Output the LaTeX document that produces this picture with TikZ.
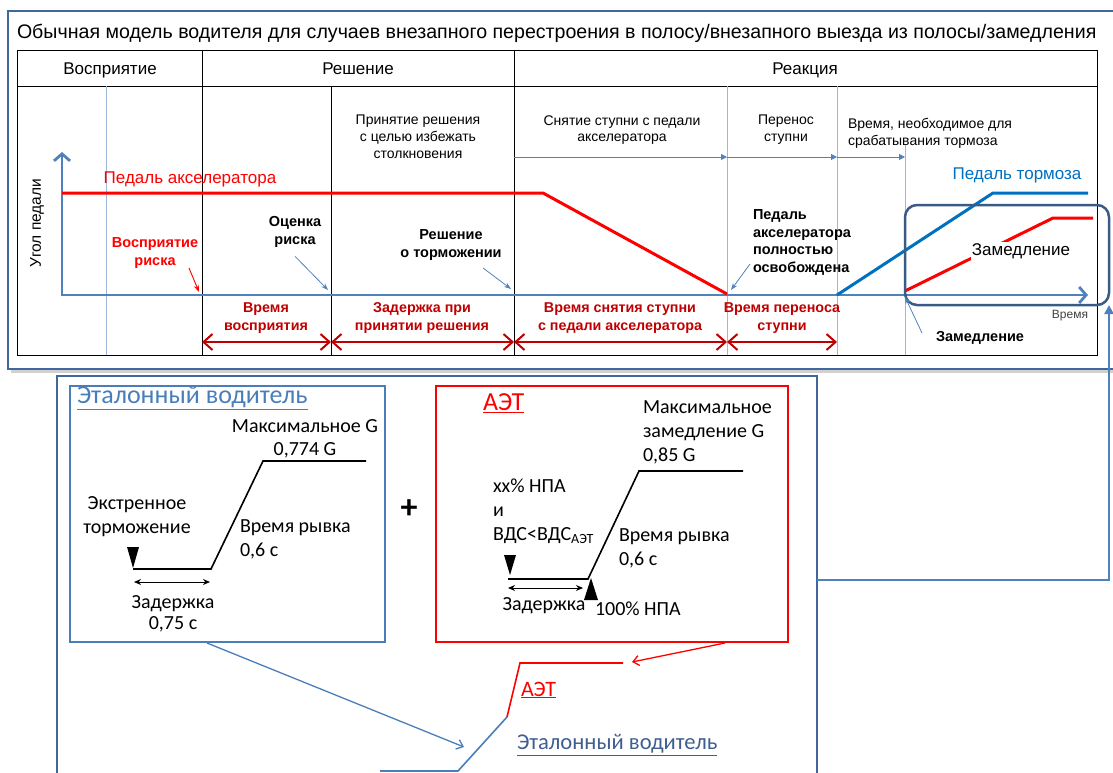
\documentclass[tikz,border=0pt]{standalone}
\usepackage{fontspec}
\setmainfont{Liberation Sans}
\newfontfamily\calfont{Carlito}
\usetikzlibrary{arrows.meta,positioning}
\definecolor{frameblue}{HTML}{41689E}
\definecolor{axisblue}{HTML}{4F81BD}
\definecolor{thinblue}{HTML}{9DB7DD}
\definecolor{brakeblue}{HTML}{0070C0}
\definecolor{slateblue}{HTML}{3B5B87}
\definecolor{darkred}{HTML}{C00000}
\definecolor{refblue}{HTML}{4A7EBB}
\definecolor{refdark}{HTML}{3F5F8F}
\begin{document}
\begin{tikzpicture}[x=1pt,y=-1pt,>=Stealth,every node/.style={inner sep=0pt,outer sep=0pt},
    hdr/.style={font=\fontsize{17}{20}\selectfont,anchor=base},
    note/.style={font=\fontsize{14}{16.8}\selectfont,align=center},
    bnote/.style={font=\fontsize{14.5}{17.5}\selectfont\bfseries,align=center},
    rnote/.style={font=\fontsize{14.3}{17.5}\selectfont\bfseries,align=center,text=darkred},
    span/.style={{Straight Barb[length=9pt,width=16pt]}-{Straight Barb[length=9pt,width=16pt]},darkred,line width=2pt},
    flow/.style={-{Triangle[length=6pt,width=6pt]},axisblue,line width=0.9pt},
    thinline/.style={thinblue,line width=0.8pt},
    pointer/.style={-{Stealth[length=7pt,width=5pt]},axisblue,line width=0.8pt},
    pedal/.style={line width=3pt},
    cal/.style={font=\calfont\fontsize{20}{24}\selectfont},
    curve/.style={line width=1.6pt},
    gap/.style={{Stealth[length=7pt,width=6pt]}-{Stealth[length=7pt,width=6pt]},line width=1pt}]
    \useasboundingbox (0,0) rectangle (1113,773);
    % upper panel
    \fill[black!18] (11,369) rectangle (1113,373);
    \draw[frameblue,line width=2.2pt] (8,11) rectangle (1120,369);
    \node[anchor=west,font=\fontsize{19.6}{22}\selectfont] (title) at (17,33)
        {Обычная модель водителя для случаев внезапного перестроения в полосу/внезапного выезда из полосы/замедления};
    \draw[line width=0.9pt] (17,50) rectangle (1097,355);
    \draw[line width=0.9pt] (17,86) -- (1097,86);
    \foreach \x in {202,514} \draw[line width=0.9pt] (\x,50) -- (\x,355);
    \draw[line width=0.9pt] (331,86) -- (331,355);
    \foreach \x in {106,727,837} \draw[thinline] (\x,86) -- (\x,355);
    \draw[thinline] (905,145) -- (905,355);
    \node[hdr] (hperc) at (110,75) {Восприятие};
    \node[hdr] (hdec) at (358,75) {Решение};
    \node[hdr] (hreact) at (805,75) {Реакция};
    \node[note] (avoid) at (418,137) {Принятие решения\\с целью избежать\\столкновения};
    \node[note] (lift) at (622,130) {Снятие ступни с педали\\акселератора};
    \node[note] (move) at (786,130) {Перенос\\ступни};
    \node[note,anchor=west,align=left] (actuate) at (848,133) {Время, необходимое для\\срабатывания тормоза};
    \coordinate (f1) at (514,157); \coordinate (f2) at (727,157);
    \coordinate (f3) at (837,157); \coordinate (f4) at (905,157);
    \draw[flow] (f1) -- (f2);
    \draw[flow] (f2) -- (f3);
    \draw[flow] (f3) -- (f4);
    % axes and pedals
    \coordinate (O) at (62,295); \coordinate (ytop) at (62,152); \coordinate (xend) at (1088,295);
    \draw[axisblue,line width=2.8pt,{Straight Barb[length=7pt,width=16pt]}-{Straight Barb[length=7pt,width=16pt]}] (ytop) -- (O) -- (xend);
    \node[rotate=90,font=\fontsize{15.5}{18}\selectfont] (yname) at (37,223) {Угол педали};
    \node[font=\fontsize{12}{14}\selectfont,text=black!75] (xname) at (1070,316) {Время};
    \draw[pedal,red] (62,193) -- (543,193) -- (727,294);
    \draw[pedal,brakeblue] (837,295) -- (993,193) -- (1088,193);
    \draw[pedal,red] (905,291) -- (1053,218) -- (1093,218);
    \node[font=\fontsize{17}{20}\selectfont,text=red] (accel) at (190,179) {Педаль акселератора};
    \node[font=\fontsize{17}{20}\selectfont,text=brakeblue] (brake) at (1017,175) {Педаль тормоза};
    \node[draw=slateblue,line width=2.5pt,rounded corners=12pt,minimum width=204pt,minimum height=100pt] (decelbox) at (1007,255) {};
    \node[fill=white,inner sep=1pt,font=\fontsize{17}{20}\selectfont] (decel) at (1021,251) {Замедление};
    % event labels
    \node[bnote,text=red,fill=white,inner sep=1pt] (riskp) at (155,253) {Восприятие\\риска};
    \coordinate (riskpt) at (199,292);
    \draw[-{Stealth[length=7pt,width=5pt]},red,line width=0.9pt] (189,268) -- (riskpt);
    \node[bnote] (riske) at (295,232) {Оценка\\риска};
    \coordinate (riskept) at (328,290);
    \draw[pointer] (riske.south) ++(0,9) -- (riskept);
    \node[bnote] (brkdec) at (451,245) {Решение\\о торможении};
    \coordinate (brkdecpt) at (511,289);
    \draw[pointer] (483,268) -- (brkdecpt);
    \node[bnote,anchor=north west,align=left] (released) at (753,210) {Педаль\\акселератора\\полностью\\освобождена};
    \coordinate (releasedpt) at (731,290);
    \draw[pointer] (750,264) -- (releasedpt);
    \node[bnote] (decelmark) at (980,338) {Замедление};
    \coordinate (decelpt) at (905,297);
    \draw[pointer] (922,333) -- (decelpt);
    % intervals
    \node[rnote] (tperc) at (266,318) {Время\\восприятия};
    \node[rnote] (tdec) at (422,318) {Задержка при\\принятии решения};
    \node[rnote] (tlift) at (620,318) {Время снятия ступни\\с педали акселератора};
    \node[rnote] (tmove) at (782,318) {Время переноса\\ступни};
    \coordinate (b1) at (202,342); \coordinate (b2) at (331,342); \coordinate (b3) at (514,342);
    \coordinate (b4) at (727,342); \coordinate (b5) at (837,342);
    \draw[span] (b1) -- (b2);
    \draw[span] (b2) -- (b3);
    \draw[span] (b3) -- (b4);
    \draw[span] (b4) -- (b5);
    % lower panel
    \node[draw=frameblue,line width=2.6pt,minimum width=760pt,minimum height=408pt] (lowerbox) at (437,580) {};
    \draw[axisblue,line width=2.6pt,-{Triangle[length=9pt,width=9pt]}] (lowerbox.east) -| (decelbox.south east);
    \node[draw=refblue,line width=2pt,minimum width=315pt,minimum height=256pt] (refbox) at (227.5,514) {};
    \node[draw=red,line width=2pt,minimum width=352pt,minimum height=256pt] (aetbox) at (612,514) {};
    \node[anchor=west,text=refblue,font=\calfont\fontsize{26}{28}\selectfont] (reftitle) at (77,398) {\underline{Эталонный водитель}};
    \node[cal,align=center,font=\calfont\fontsize{20}{23}\selectfont] (refmax) at (305,439) {Максимальное G\\0,774 G};
    \draw[curve] (133,569) -- (211,569) -- (263,461) -- (366,461);
    \fill (127,547) -- (139,547) -- (133,568) -- cycle;
    \node[cal,align=center] (refstart) at (137,517) {Экстренное\\торможение};
    \node[cal,anchor=west,align=left] (refjerk) at (240,539) {Время рывка\\0,6 с};
    \coordinate (rg1) at (134,582); \coordinate (rg2) at (210,582);
    \draw[gap] (rg1) -- (rg2);
    \node[cal,align=center,font=\calfont\fontsize{20}{21}\selectfont] (refdelay) at (173,614) {Задержка\\0,75 с};
    \node[font=\calfont\bfseries\fontsize{34}{36}\selectfont] (plus) at (409,509) {+};
    \node[anchor=west,text=red,font=\calfont\fontsize{26}{28}\selectfont] (aettitle) at (483,403) {\underline{АЭТ}};
    \node[cal,anchor=west,align=left] (aetmax) at (643,432) {Максимальное\\замедление G\\0,85 G};
    \draw[curve] (508,579) -- (588,579) -- (639,471) -- (743,471);
    \fill (504,555) -- (516,555) -- (510,575) -- cycle;
    \fill (591,578) -- (598,600) -- (584,600) -- cycle;
    \node[cal,anchor=west,align=left] (aetcond) at (493,511) {xx\% НПА\\и\\ВДС<ВДС\textsubscript{АЭТ}};
    \coordinate (ag1) at (508,588); \coordinate (ag2) at (583,588);
    \draw[gap] (ag1) -- (ag2);
    \node[cal] (aetdelay) at (544,606) {Задержка};
    \node[cal,anchor=west] (aetfull) at (595,609) {100\% НПА};
    \node[cal,anchor=west,align=left] (aetjerk) at (619,548) {Время рывка\\0,6 с};
    % comparison
    \draw[red,line width=1.6pt] (623,663) -- (520,663) -- (507,717);
    \draw[refblue,line width=1.6pt] (507,717) -- (458,771) -- (380,771);
    \coordinate (aetin) at (632,662); \coordinate (aetout) at (725,643);
    \draw[red,line width=1.3pt,-{Straight Barb[length=6pt,width=10pt]}] (aetout) -- (aetin);
    \coordinate (refin) at (464,747); \coordinate (refout) at (207,643);
    \draw[refblue,line width=1.3pt,-{Straight Barb[length=6pt,width=10pt]}] (refout) -- (refin);
    \node[anchor=west,text=red,font=\calfont\fontsize{22}{24}\selectfont] (aetname) at (521,690) {\underline{АЭТ}};
    \node[anchor=west,text=refdark,font=\calfont\fontsize{22.6}{24}\selectfont] (refname) at (517,745) {\underline{Эталонный водитель}};
\end{tikzpicture}
\end{document}
